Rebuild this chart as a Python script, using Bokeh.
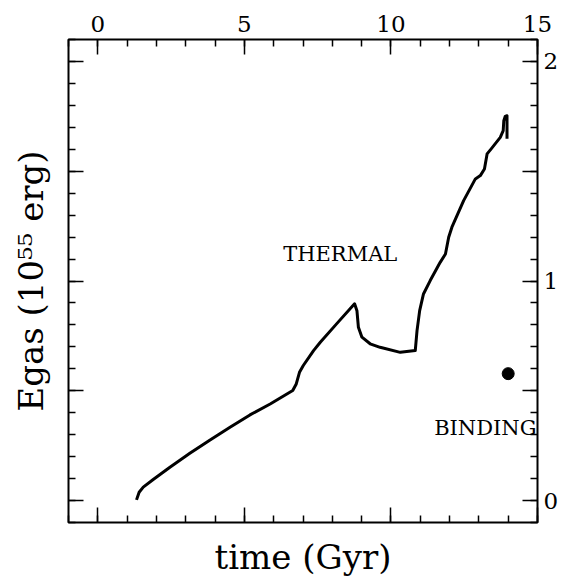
from bokeh.plotting import figure
from bokeh.models import Range1d, LinearAxis, FixedTicker, ColumnDataSource, Label
from bokeh.embed import file_html
from bokeh.resources import INLINE

# ---- data ----
time_gyr = [1.32, 1.41, 1.55, 1.89, 2.46, 3.14, 3.83, 4.51, 5.19, 5.88, 6.65,
            6.77, 6.88, 7.01, 7.36, 7.59, 8.16, 8.76, 8.84, 8.89, 9.01, 9.29,
            9.63, 10.32, 10.83, 10.89, 10.98, 11.11, 11.34, 11.68, 11.86, 11.97,
            12.08, 12.48, 12.88, 13.05, 13.19, 13.28, 13.42, 13.73, 13.83, 13.85,
            13.90, 13.96, 13.96]
egas_thermal = [0.003, 0.038, 0.061, 0.096, 0.152, 0.215, 0.276, 0.334, 0.390, 0.440, 0.501,
                0.531, 0.584, 0.615, 0.683, 0.721, 0.807, 0.896, 0.865, 0.789, 0.744, 0.714,
                0.698, 0.675, 0.683, 0.774, 0.865, 0.941, 1.002, 1.085, 1.123, 1.199,
                1.245, 1.366, 1.465, 1.480, 1.510, 1.579, 1.602, 1.654, 1.685, 1.730,
                1.750, 1.753, 1.648]
binding_t = [14.0]
binding_e = [0.578]

x_major = [0, 5, 10, 15]
x_minor = list(range(-1, 16))
y_major = [0, 0.5, 1, 1.5, 2]
y_minor = [round(-0.1 + 0.1 * i, 1) for i in range(23)]
y_label_overrides = {0.5: "", 1.5: ""}

label_texts = ["THERMAL", "BINDING"]
label_t = [8.27, 13.22]
label_e = [1.125, 0.332]

FONT = "DejaVu Serif"

p = figure(width=579, height=581, x_range=Range1d(-1, 15), y_range=Range1d(-0.1, 2.1),
           output_backend="svg", toolbar_location=None,
           min_border_left=68, min_border_right=42, min_border_top=39, min_border_bottom=59)
p.background_fill_color = "white"
p.border_fill_color = "white"
p.outline_line_color = "black"
p.outline_line_width = 2
p.xgrid.visible = False
p.ygrid.visible = False

def style(ax, ticks, minor):
    ax.ticker = FixedTicker(ticks=ticks, minor_ticks=minor)
    ax.axis_line_color = None
    ax.major_tick_in = 15
    ax.major_tick_out = 0
    ax.minor_tick_in = 7
    ax.minor_tick_out = 0
    ax.major_tick_line_color = "black"
    ax.minor_tick_line_color = "black"
    ax.major_tick_line_width = 1.5
    ax.minor_tick_line_width = 1.5
    ax.major_label_text_font = FONT
    ax.major_label_text_font_size = "23px"
    ax.major_label_text_color = "black"
    ax.axis_label_text_font = FONT
    ax.axis_label_text_font_size = "34px"
    ax.axis_label_text_font_style = "normal"
    ax.axis_label_text_color = "black"

def hide_labels(ax):
    ax.major_label_text_color = None
    ax.major_label_text_font_size = "1px"
    ax.major_label_standoff = 0

# bottom
bx = p.xaxis[0]
style(bx, x_major, x_minor)
hide_labels(bx)
bx.axis_label = "time (Gyr)"
bx.axis_label_standoff = 14

# left
ly = p.yaxis[0]
style(ly, y_major, y_minor)
hide_labels(ly)
ly.axis_label = "Egas (10\u2075\u2075 erg)"
ly.axis_label_standoff = 18

# top
tx = LinearAxis()
style(tx, x_major, x_minor)
tx.major_label_standoff = 8
p.add_layout(tx, "above")

# right
ry = LinearAxis()
style(ry, y_major, y_minor)
ry.major_label_overrides = y_label_overrides
ry.major_label_standoff = 6
p.add_layout(ry, "right")

src = ColumnDataSource(dict(t=time_gyr, e=egas_thermal))
p.line("t", "e", source=src, line_color="black", line_width=3, line_join="round")
p.scatter(binding_t, binding_e, size=12, color="black")

for txt, tt, ee in zip(label_texts, label_t, label_e):
    p.add_layout(Label(x=tt, y=ee, text=txt, text_font=FONT, text_font_size="21px",
                       text_align="center", text_baseline="middle", text_color="black"))

open("out.html", "w").write(file_html(p, INLINE))
